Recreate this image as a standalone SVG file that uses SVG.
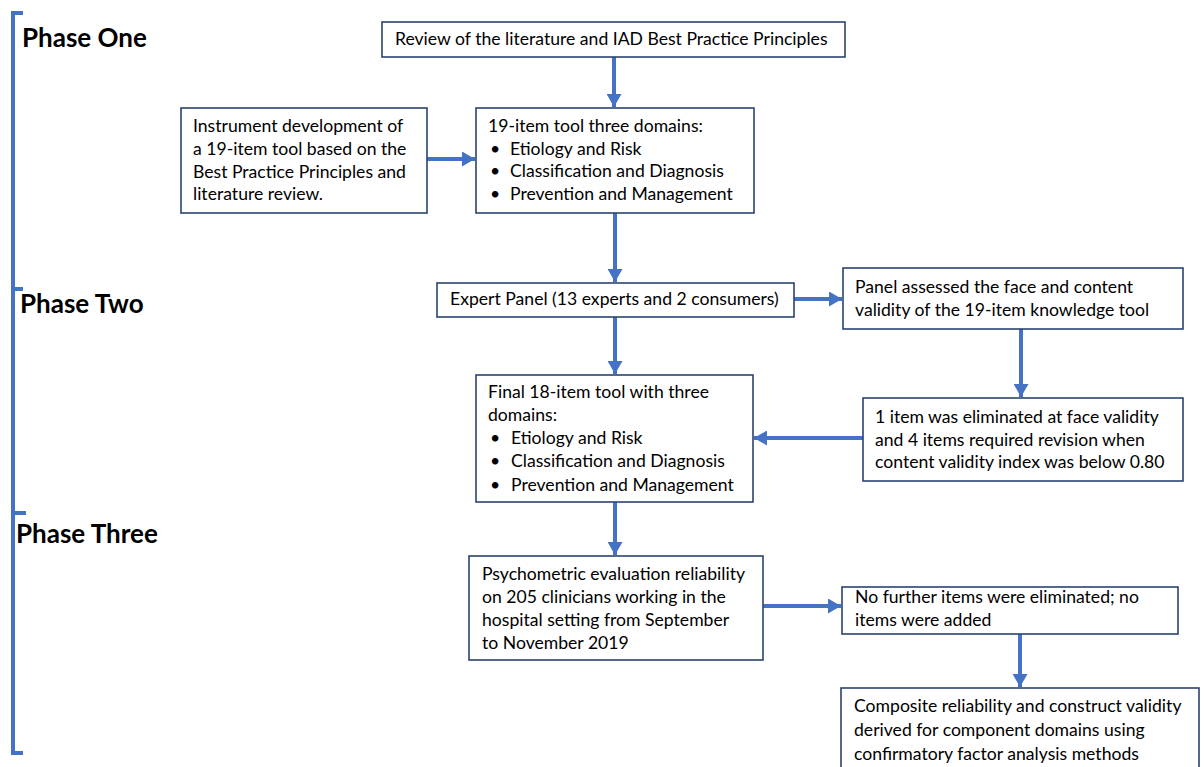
<svg xmlns="http://www.w3.org/2000/svg" width="1204" height="767" viewBox="0 0 1204 767">
<style>
.box{fill:#ffffff;stroke:#2B4470;stroke-width:1.6}
.t{font-family:Lato,"Liberation Sans",sans-serif;font-size:17.6px;fill:#000}
.ph{font-family:Lato,"Liberation Sans",sans-serif;font-size:26px;font-weight:bold;fill:#000}
.c{stroke:#4472C4;stroke-width:4;fill:none}
.br{stroke:#4472C4;stroke-width:4;fill:none}
</style>
<defs>
<marker id="ah" markerUnits="userSpaceOnUse" markerWidth="15" markerHeight="15" refX="13" refY="7.5" orient="auto">
<path d="M0,0 L13,7.5 L0,15 Z" fill="#4472C4"/>
</marker>
</defs>
<rect width="1204" height="767" fill="#ffffff"/>
<g id="phase-bracket">
<path class="br" d="M23,13 H13 V753 H23"/>
<path class="br" d="M13,289 H23"/>
<path class="br" d="M13,513 H26"/>
</g>
<g id="phase-labels">
<text class="ph" x="22" y="47">Phase One</text>
<text class="ph" x="20" y="313">Phase Two</text>
<text class="ph" x="16" y="543">Phase Three</text>
</g>
<g id="connectors">
<line class="c" x1="614" y1="57" x2="614" y2="107" marker-end="url(#ah)"/>
<line class="c" x1="427" y1="159" x2="475" y2="159" marker-end="url(#ah)"/>
<line class="c" x1="615" y1="213" x2="615" y2="282" marker-end="url(#ah)"/>
<line class="c" x1="794" y1="299" x2="842" y2="299" marker-end="url(#ah)"/>
<line class="c" x1="615" y1="317" x2="615" y2="374" marker-end="url(#ah)"/>
<line class="c" x1="1021" y1="329" x2="1021" y2="397" marker-end="url(#ah)"/>
<line class="c" x1="863" y1="438" x2="754" y2="438" marker-end="url(#ah)"/>
<line class="c" x1="615" y1="502" x2="615" y2="555" marker-end="url(#ah)"/>
<line class="c" x1="763" y1="606" x2="841" y2="606" marker-end="url(#ah)"/>
<line class="c" x1="1020" y1="634" x2="1020" y2="687" marker-end="url(#ah)"/>
</g>
<g id="review">
<rect class="box" x="382" y="22" width="463" height="35"/>
<text class="t" x="395" y="45">Review of the literature and IAD Best Practice Principles</text>
</g>
<g id="instrument">
<rect class="box" x="181" y="108" width="246" height="105"/>
<text class="t" x="193" y="132">Instrument development of</text>
<text class="t" x="193" y="155">a 19-item tool based on the</text>
<text class="t" x="193" y="178">Best Practice Principles and</text>
<text class="t" x="193" y="200">literature review.</text>
</g>
<g id="tool19">
<rect class="box" x="476" y="108" width="278" height="105"/>
<text class="t" x="488" y="132">19-item tool three domains:</text>
<text class="t" x="490" y="155">•</text><text class="t" x="510" y="155">Etiology and Risk</text>
<text class="t" x="490" y="177">•</text><text class="t" x="510" y="177">Classification and Diagnosis</text>
<text class="t" x="490" y="200">•</text><text class="t" x="510" y="200">Prevention and Management</text>
</g>
<g id="expert-panel">
<rect class="box" x="437" y="283" width="357" height="34"/>
<text class="t" x="450" y="305">Expert Panel (13 experts and 2 consumers)</text>
</g>
<g id="panel-assessed">
<rect class="box" x="843" y="268" width="340" height="61"/>
<text class="t" x="855" y="293">Panel assessed the face and content</text>
<text class="t" x="855" y="316">validity of the 19-item knowledge tool</text>
</g>
<g id="final18">
<rect class="box" x="476" y="375" width="277" height="127"/>
<text class="t" x="488" y="398">Final 18-item tool with three</text>
<text class="t" x="488" y="421">domains:</text>
<text class="t" x="490" y="444">•</text><text class="t" x="511" y="444">Etiology and Risk</text>
<text class="t" x="490" y="467">•</text><text class="t" x="511" y="467">Classification and Diagnosis</text>
<text class="t" x="490" y="491">•</text><text class="t" x="511" y="491">Prevention and Management</text>
</g>
<g id="item-eliminated">
<rect class="box" x="863" y="398" width="320" height="83"/>
<text class="t" x="875" y="423">1 item was eliminated at face validity</text>
<text class="t" x="875" y="446">and 4 items required revision when</text>
<text class="t" x="875" y="468">content validity index was below 0.80</text>
</g>
<g id="psychometric">
<rect class="box" x="469" y="556" width="294" height="104"/>
<text class="t" x="482" y="580">Psychometric evaluation reliability</text>
<text class="t" x="482" y="603">on 205 clinicians working in the</text>
<text class="t" x="482" y="626">hospital setting from September</text>
<text class="t" x="482" y="649">to November 2019</text>
</g>
<g id="no-further">
<rect class="box" x="842" y="587" width="336" height="47"/>
<text class="t" x="855" y="603">No further items were eliminated; no</text>
<text class="t" x="855" y="626">items were added</text>
</g>
<g id="composite">
<rect class="box" x="841" y="688" width="358" height="90"/>
<text class="t" x="854" y="712">Composite reliability and construct validity</text>
<text class="t" x="854" y="736">derived for component domains using</text>
<text class="t" x="854" y="760">confirmatory factor analysis methods</text>
</g>
</svg>
